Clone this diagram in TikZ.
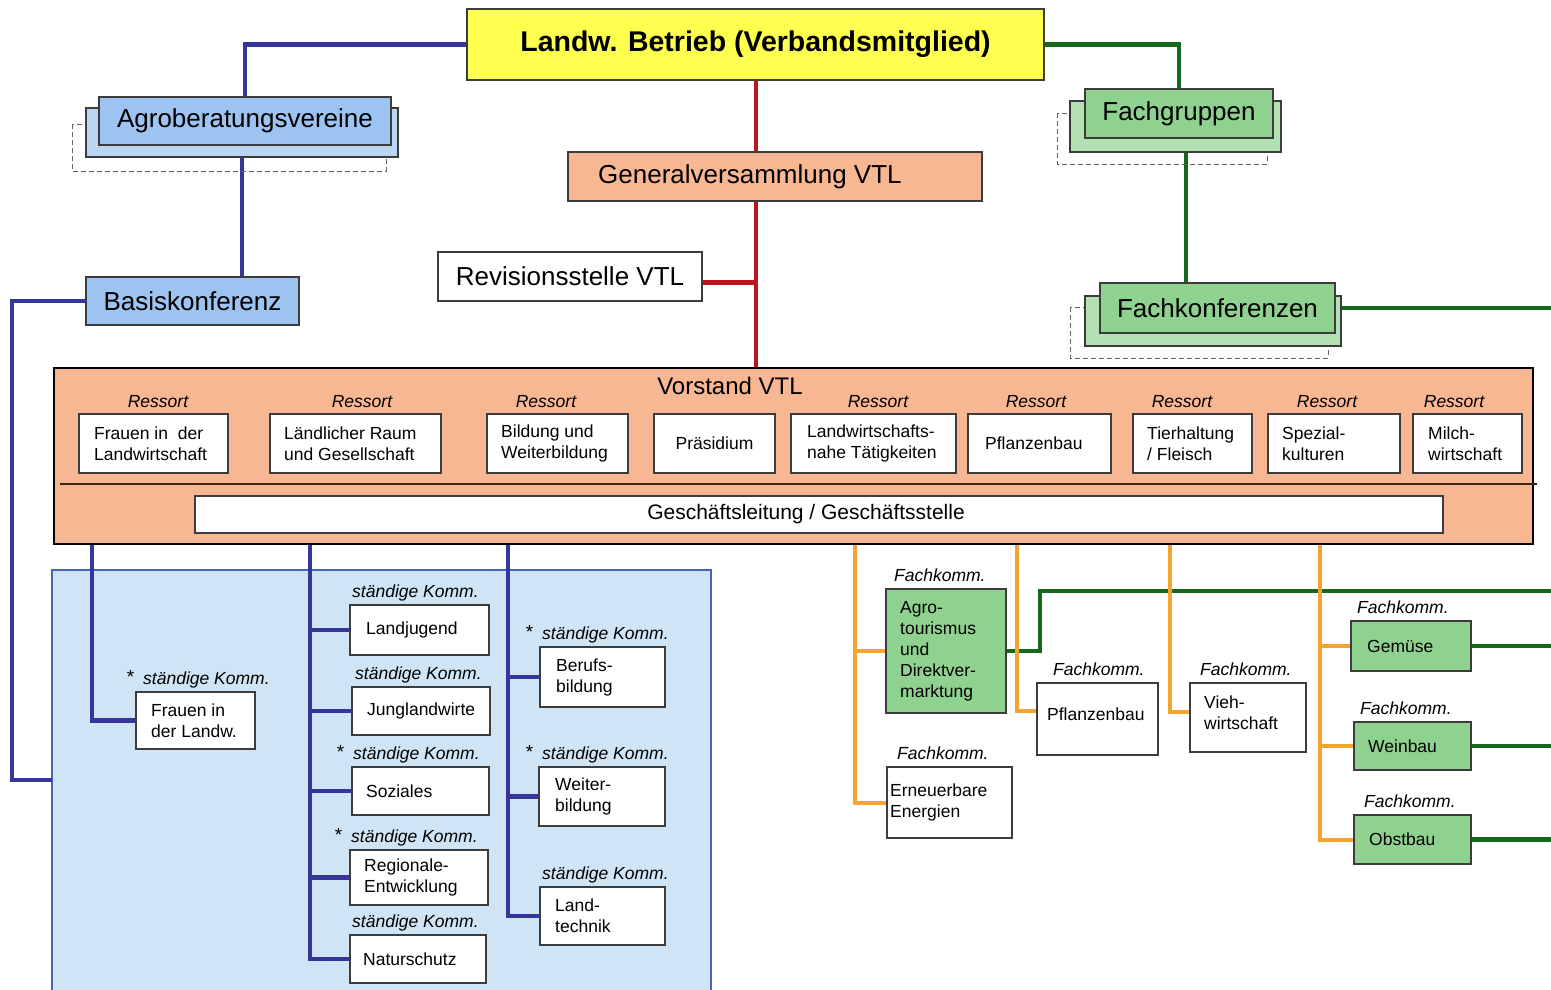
\documentclass[tikz,border=0pt]{standalone}
\usepackage{fontspec}
\setmainfont{Liberation Sans}
\usetikzlibrary{calc}
\pgfdeclarelayer{back}\pgfdeclarelayer{bg}
\pgfsetlayers{back,bg,main}
\definecolor{yel}{HTML}{FFFF4F}
\definecolor{lblue}{HTML}{9DC3F0}
\definecolor{lblueb}{HTML}{BCD5F3}
\definecolor{lgreen}{HTML}{8FD18F}
\definecolor{lgreenb}{HTML}{B3E1B3}
\definecolor{salmon}{HTML}{F7B793}
\definecolor{areablue}{HTML}{CFE5F5}
\definecolor{areaborder}{HTML}{4766B8}
\definecolor{lnblue}{HTML}{35359A}
\definecolor{lngreen}{HTML}{16681C}
\definecolor{lnred}{HTML}{BE1421}
\definecolor{lnorange}{HTML}{F4A530}
\definecolor{bordergray}{HTML}{3C3C3C}
\tikzset{
  box/.style={draw=bordergray, line width=1.3pt, inner sep=0pt, outer sep=0pt, fill=white},
  wbox/.style={box, fill=white},
  gbox/.style={box, fill=lgreen},
  bbox/.style={box, fill=lblue},
  sbox/.style={box, fill=salmon},
  small/.style={font=\fontsize{17.5}{21}\selectfont, align=left, inner sep=0pt},
  smallit/.style={font=\fontsize{17.5}{21}\selectfont\itshape, inner sep=0pt},
  big/.style={font=\fontsize{26}{30}\selectfont},
  dashbox/.style={draw=bordergray!80, dashed, dash pattern=on 5pt off 3pt, line width=1pt},
  blueln/.style={draw=lnblue, line width=4.5pt},
  greenln/.style={draw=lngreen, line width=4.5pt},
  redln/.style={draw=lnred, line width=4pt},
  orln/.style={draw=lnorange, line width=4pt},
}
% box with left-set text: [textopts]{style}{x1}{y1}{x2}{y2}{name}{pad}{text}
\newcommand\bxl[9][]{%
  \pgfmathsetmacro\bw{#5-#3}\pgfmathsetmacro\bh{#6-#4}%
  \pgfmathsetmacro\bcx{(#3+#5)/2}\pgfmathsetmacro\bcy{(#4+#6)/2}%
  \node[#2, minimum width=\bw pt, minimum height=\bh pt] (#7) at (\bcx,\bcy) {};%
  \node[small, anchor=west, #1] (#7t) at ([xshift=#8pt]#7.west) {#9};}
% box with centred text: [opts]{style}{x1}{y1}{x2}{y2}{name}{textstyle}{text}
\newcommand\bxc[9][]{%
  \pgfmathsetmacro\bw{#5-#3}\pgfmathsetmacro\bh{#6-#4}%
  \pgfmathsetmacro\bcx{(#3+#5)/2}\pgfmathsetmacro\bcy{(#4+#6)/2}%
  \node[#2, minimum width=\bw pt, minimum height=\bh pt, #8, #1] (#7) at (\bcx,\bcy) {#9};}
% label above a box: {name}{box}{xoff}{text}
\newcommand\klab[4]{%
  \node[smallit, anchor=base west] (#1) at ([xshift=#3pt, yshift=8pt]#2.north west) {#4};}
\newcommand\stx{{\upshape\llap{\raisebox{1pt}{\fontsize{19}{21}\selectfont*}\hspace{9pt}}}}
\begin{document}
\begin{tikzpicture}[x=1pt, y=-1pt]
\useasboundingbox (0,0) rectangle (1551,989);
\begin{pgfonlayer}{back}
  \fill[white] (0,0) rectangle (1551,989);
  \bxc{box, fill=areablue, draw=areaborder, line width=1.5pt}{52}{570}{711}{1000}{kommarea}{}{}
\end{pgfonlayer}

% ---- top ----
\bxc{box, fill=yel}{467}{9}{1044}{80}{landw}{font=\bfseries\fontsize{28.5}{32}\selectfont}{\raisebox{-2pt}{Landw. Betrieb (Verbandsmitglied)}}
\bxl[big]{sbox}{568}{152}{982}{201}{genv}{30}{Generalversammlung VTL}
\bxc{wbox}{438}{252}{702}{301}{rev}{big}{Revisionsstelle VTL}

% Agroberatungsvereine stack
\draw[dashbox] (72,124) rectangle (386,171);
\bxc{box, fill=lblueb}{86}{108}{398}{157}{agroback}{}{}
\bxc{bbox}{99}{97}{391}{145}{agro}{big}{Agroberatungsvereine}
\bxc{bbox}{86}{277}{299}{325}{basis}{big}{Basiskonferenz}

% Fachgruppen stack
\draw[dashbox] (1057,113) rectangle (1267,164);
\bxc{box, fill=lgreenb}{1070}{101}{1281}{152}{fgrpback}{}{}
\bxc{gbox}{1085}{89}{1273}{138}{fgrp}{big}{Fachgruppen}

% Fachkonferenzen stack
\draw[dashbox] (1070,307) rectangle (1328,358);
\bxc{box, fill=lgreenb}{1085}{296}{1341}{346}{fkonfback}{}{}
\bxc{gbox}{1100}{283}{1335}{333}{fkonf}{big}{Fachkonferenzen}

% ---- Vorstand ----
\bxc{sbox, draw=black, line width=2.5pt}{54}{368}{1533}{544}{vorstand}{}{}
\draw[draw=black!70!brown, line width=1.3pt] ([xshift=6pt, yshift=-28pt]vorstand.west) -- ([xshift=4pt, yshift=-28pt]vorstand.east);
\node[font=\fontsize{24}{28}\selectfont, inner sep=0pt] (vtitle) at (730,386) {Vorstand VTL};

\bxl{wbox}{79}{414}{228}{473}{rsa}{15}{Frauen in\ \ der\\Landwirtschaft}
\bxl{wbox}{270}{414}{441}{473}{rsb}{14}{Ländlicher Raum\\und Gesellschaft}
\bxl{wbox}{487}{414}{628}{473}{rsc}{14}{Bildung und\\Weiterbildung}
\bxc{wbox}{654}{414}{775}{473}{rsd}{small}{Präsidium}
\bxl{wbox}{791}{414}{956}{473}{rse}{16}{Landwirtschafts-\\nahe Tätigkeiten}
\bxl{wbox}{968}{414}{1111}{473}{rsf}{17}{Pflanzenbau}
\bxl{wbox}{1133}{414}{1252}{473}{rsg}{14}{Tierhaltung\\/ Fleisch}
\bxl{wbox}{1268}{414}{1400}{473}{rsh}{14}{Spezial-\\kulturen}
\bxl{wbox}{1413}{414}{1522}{473}{rsi}{15}{Milch-\\wirtschaft}

\node[smallit] (ra) at (158,402) {Ressort};
\node[smallit] (rb) at (362,402) {Ressort};
\node[smallit] (rc) at (546,402) {Ressort};
\node[smallit] (re) at (878,402) {Ressort};
\node[smallit] (rf) at (1036,402) {Ressort};
\node[smallit] (rg) at (1182,402) {Ressort};
\node[smallit] (rh) at (1327,402) {Ressort};
\node[smallit] (ri) at (1454,402) {Ressort};

\bxc{wbox}{195}{496}{1443}{533}{gs}{font=\fontsize{21}{24}\selectfont}{\hspace*{-26pt}Geschäftsleitung / Geschäftsstelle}

% ---- ständige Kommissionen ----
\bxl{wbox}{136}{692}{255}{749}{fk}{15}{Frauen in\\der Landw.}
\bxl{wbox}{350}{605}{489}{655}{lj}{16}{Landjugend}
\bxl{wbox}{352}{687}{490}{735}{jl}{15}{Junglandwirte}
\bxl{wbox}{352}{767}{489}{815}{soz}{14}{Soziales}
\bxl{wbox}{350}{850}{488}{905}{reg}{14}{Regionale-\\Entwicklung}
\bxl{wbox}{350}{935}{486}{983}{nat}{13}{Naturschutz}
\bxl{wbox}{540}{647}{665}{707}{bb}{16}{Berufs-\\bildung}
\bxl{wbox}{539}{767}{665}{826}{wb}{16}{Weiter-\\bildung}
\bxl{wbox}{540}{887}{665}{945}{lt}{15}{Land-\\technik}

\klab{fkl}{fk}{7}{\stx ständige Komm.}
\klab{ljl}{lj}{2}{ständige Komm.}
\klab{jll}{jl}{3}{ständige Komm.}
\klab{sozl}{soz}{1}{\stx ständige Komm.}
\klab{regl}{reg}{1}{\stx ständige Komm.}
\klab{natl}{nat}{2}{ständige Komm.}
\klab{bbl}{bb}{2}{\stx ständige Komm.}
\klab{wbl}{wb}{3}{\stx ständige Komm.}
\klab{ltl}{lt}{2}{ständige Komm.}

% ---- Fachkommissionen ----
\bxl{gbox}{886}{589}{1006}{713}{agt}{14}{Agro-\\tourismus\\und\\Direktver-\\marktung}
\bxl{wbox}{887}{767}{1012}{838}{ee}{3}{Erneuerbare\\Energien}
\bxl[yshift=5pt]{wbox}{1037}{683}{1158}{755}{pb}{10}{Pflanzenbau}
\bxl[yshift=5pt]{wbox}{1190}{683}{1306}{752}{vw}{14}{Vieh-\\wirtschaft}
\bxl{gbox}{1351}{621}{1471}{671}{gem}{16}{Gemüse}
\bxl{gbox}{1354}{722}{1471}{770}{wein}{14}{Weinbau}
\bxl{gbox}{1354}{815}{1471}{864}{obst}{15}{Obstbau}

\klab{agtl}{agt}{8}{Fachkomm.}
\klab{eel}{ee}{10}{Fachkomm.}
\klab{pbl}{pb}{16}{Fachkomm.}
\klab{vwl}{vw}{10}{Fachkomm.}
\klab{geml}{gem}{6}{Fachkomm.}
\klab{weinl}{wein}{6}{Fachkomm.}
\klab{obstl}{obst}{10}{Fachkomm.}

% ---- connectors ----
\begin{pgfonlayer}{bg}
  % blue
  \draw[blueln] (landw.west) -| (agro.north);
  \draw[blueln] ([xshift=-3pt]agro.south) -- ([xshift=-3pt]agro.south |- basis.north);
  \coordinate (bl) at (12,780);
  \draw[blueln] (basis.west) -| (bl) -- (bl -| kommarea.west);
  \coordinate (ca) at ([xshift=38pt]vorstand.south west);
  \draw[blueln] (ca) |- (fk.west);
  \coordinate (cb) at ([xshift=256pt]vorstand.south west);
  \draw[blueln] (cb) |- (nat.west);
  \foreach \b in {lj,jl,soz,reg} \draw[blueln] (\b.west) -- (\b.west -| cb);
  \coordinate (cc) at ([xshift=454pt]vorstand.south west);
  \draw[blueln] (cc) |- (lt.west);
  \foreach \b in {bb,wb} \draw[blueln] (\b.west) -- (\b.west -| cc);
  % red
  \draw[redln] (landw.south) -- (landw.south |- genv.north);
  \draw[redln] (landw.south |- genv.south) -- (landw.south |- vorstand.north);
  \draw[redln, line width=5.5pt] ([yshift=-6pt]rev.east) -- ([yshift=-6pt]rev.east -| landw.south);
  % green
  \draw[greenln] (landw.east) -| (fgrp.north);
  \draw[greenln] ([xshift=7pt]fgrp.south) -- ([xshift=7pt]fgrp.south |- fkonf.north);
  \coordinate (gr) at (1560,591);
  \draw[greenln] (fkonf.east) -- (fkonf.east -| gr);
  \draw[greenln] (agt.east) -- ++(34,0) |- (gr);
  \foreach \b in {gem,wein,obst} \draw[greenln] (\b.east) -- (\b.east -| gr);
  % orange
  \coordinate (oa) at ([xshift=801pt]vorstand.south west);
  \draw[orln] (oa) |- (ee.west);
  \draw[orln] (agt.west) -- (agt.west -| oa);
  \coordinate (ob) at ([xshift=963pt]vorstand.south west);
  \draw[orln] (ob) |- ([yshift=8pt]pb.west);
  \coordinate (oc) at ([xshift=1116pt]vorstand.south west);
  \draw[orln] (oc) |- ([yshift=6pt]vw.west);
  \coordinate (od) at ([xshift=1266pt]vorstand.south west);
  \draw[orln] (od) |- (obst.west);
  \foreach \b in {gem,wein} \draw[orln] (\b.west) -- (\b.west -| od);
\end{pgfonlayer}
\end{tikzpicture}
\end{document}
